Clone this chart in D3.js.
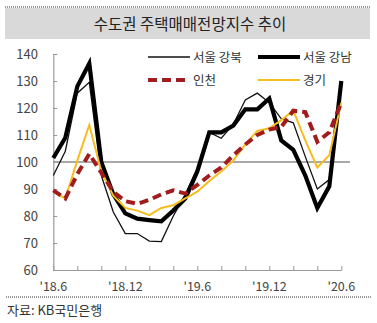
<!DOCTYPE html>
<html><head><meta charset="utf-8">
<script src="https://cdn.jsdelivr.net/npm/d3@7"></script>
<style>body{margin:0;background:#fff;}svg{display:block;font-family:"Noto Sans CJK KR","Noto Sans",sans-serif;}</style>
</head><body><svg id="c" width="377" height="323"></svg>
<script>
const months = ["18.6","18.7","18.8","18.9","18.10","18.11","18.12","19.1","19.2","19.3","19.4","19.5","19.6","19.7","19.8","19.9","19.10","19.11","19.12","20.1","20.2","20.3","20.4","20.5","20.6"];
const gangbuk = [95,104,125.5,129.5,95,81.5,73.5,73.5,70.7,70.5,80,88,97.5,111,108.8,114,123,125.5,122,116,114.5,102,90,93.5,128.5];
const gangnam = [101.5,109,128,136.5,100,88,81,79,78.5,78,82,86.5,96.5,111,111,113.5,119.5,119.5,123.5,108,104.5,95,83,91,130];
const incheon = [89.5,86.5,95.5,103,96,89,85.5,84.5,86,88,89.5,88.3,91.5,95,98,102.5,106.5,110,112,113,119,118.5,107.5,111,122];
const gyeonggi = [89,86.5,100.5,113.7,96.5,87.5,83,82,80.3,83,84,86.5,89,93,96.5,100.5,106.5,111.5,112.5,115.5,119,108,98,102.5,122];
const yTicks = [60,70,80,90,100,110,120,130,140];
const xLabels = ["18.6","18.12","19.6","19.12","20.6"];
const title = "수도권 주택매매전망지수 추이";
const source = "자료: KB국민은행";

const svg = d3.select("#c");
const x = d3.scalePoint().domain(months).range([53.3, 341.3]);
const y = d3.scaleLinear().domain([60,140]).range([270, 54]);

// title
svg.append("line").attr("x1",5).attr("x2",370).attr("y1",7).attr("y2",7)
  .attr("stroke","#333").attr("stroke-width",1).attr("stroke-dasharray","1,1");
svg.append("rect").attr("x",5).attr("y",8).attr("width",365).attr("height",31).attr("fill","#d9d9d9");
svg.append("text").attr("x",190).attr("y",29.5).attr("text-anchor","middle")
  .attr("font-size",15.5).attr("fill","#222").text(title);

// reference 100
svg.append("line").attr("x1",53.3).attr("x2",350).attr("y1",y(100)).attr("y2",y(100))
  .attr("stroke","#8c8c8c").attr("stroke-width",1.3);

// axes
const yAxis = d3.axisRight(y).tickValues(yTicks).tickSize(4).tickFormat("");
const gy = svg.append("g").attr("transform","translate(53.3,0)").call(yAxis);
gy.select(".domain").attr("stroke","#999").attr("stroke-width",1.2);
gy.selectAll(".tick line").attr("stroke","#999");
svg.append("g").selectAll("text").data(yTicks).join("text")
  .attr("x",38).attr("y",d=>y(d)+4.5).attr("text-anchor","end")
  .attr("font-size",13).attr("fill","#444").text(d=>d);

const xTickVals = months.filter((m,i)=>i%2===0);
const xAxis = d3.axisTop(x).tickValues(xTickVals).tickSize(4).tickFormat("").tickSizeOuter(0);
const gx = svg.append("g").attr("transform","translate(0,270)").call(xAxis);
gx.select(".domain").attr("stroke","#999").attr("stroke-width",1.2);
gx.selectAll(".tick line").attr("stroke","#999");
svg.append("g").selectAll("text").data(xLabels).join("text")
  .attr("x",d=>x(d)).attr("y",291).attr("text-anchor","middle")
  .attr("font-size",12.5).attr("fill","#444").text(d=>"'"+d);

// lines
const line = d3.line().x((d,i)=>x(months[i])).y(d=>y(d));
const series = [
  {name:"서울 강북", data:gangbuk, color:"#111", width:1.3, dash:null},
  {name:"서울 강남", data:gangnam, color:"#000", width:4.2, dash:null},
  {name:"경기", data:gyeonggi, color:"#f5bd1f", width:2, dash:null},
  {name:"인천", data:incheon, color:"#a11c1c", width:4, dash:"9,5"}
];
series.forEach(s=>{
  svg.append("path").attr("d",line(s.data)).attr("fill","none")
    .attr("stroke",s.color).attr("stroke-width",s.width)
    .attr("stroke-linejoin","miter").attr("stroke-dasharray",s.dash);
});

// legend
const leg = [
  {name:"서울 강북", s:series[0], x:148, y:57},
  {name:"서울 강남", s:series[1], x:258, y:57},
  {name:"인천", s:series[3], x:148, y:80},
  {name:"경기", s:series[2], x:258, y:80}
];
leg.forEach(l=>{
  svg.append("line").attr("x1",l.x).attr("x2",l.x+42).attr("y1",l.y).attr("y2",l.y)
    .attr("stroke",l.s.color).attr("stroke-width",l.s.width).attr("stroke-dasharray",l.s.dash);
  svg.append("text").attr("x",l.x+45).attr("y",l.y+4.5).attr("font-size",12.5)
    .attr("fill","#333").text(l.name);
});

// bottom
svg.append("line").attr("x1",6).attr("x2",372).attr("y1",297).attr("y2",297)
  .attr("stroke","#333").attr("stroke-width",1).attr("stroke-dasharray","1,1");
svg.append("text").attr("x",7).attr("y",315).attr("font-size",13).attr("fill","#333").text(source);
</script></body></html>
